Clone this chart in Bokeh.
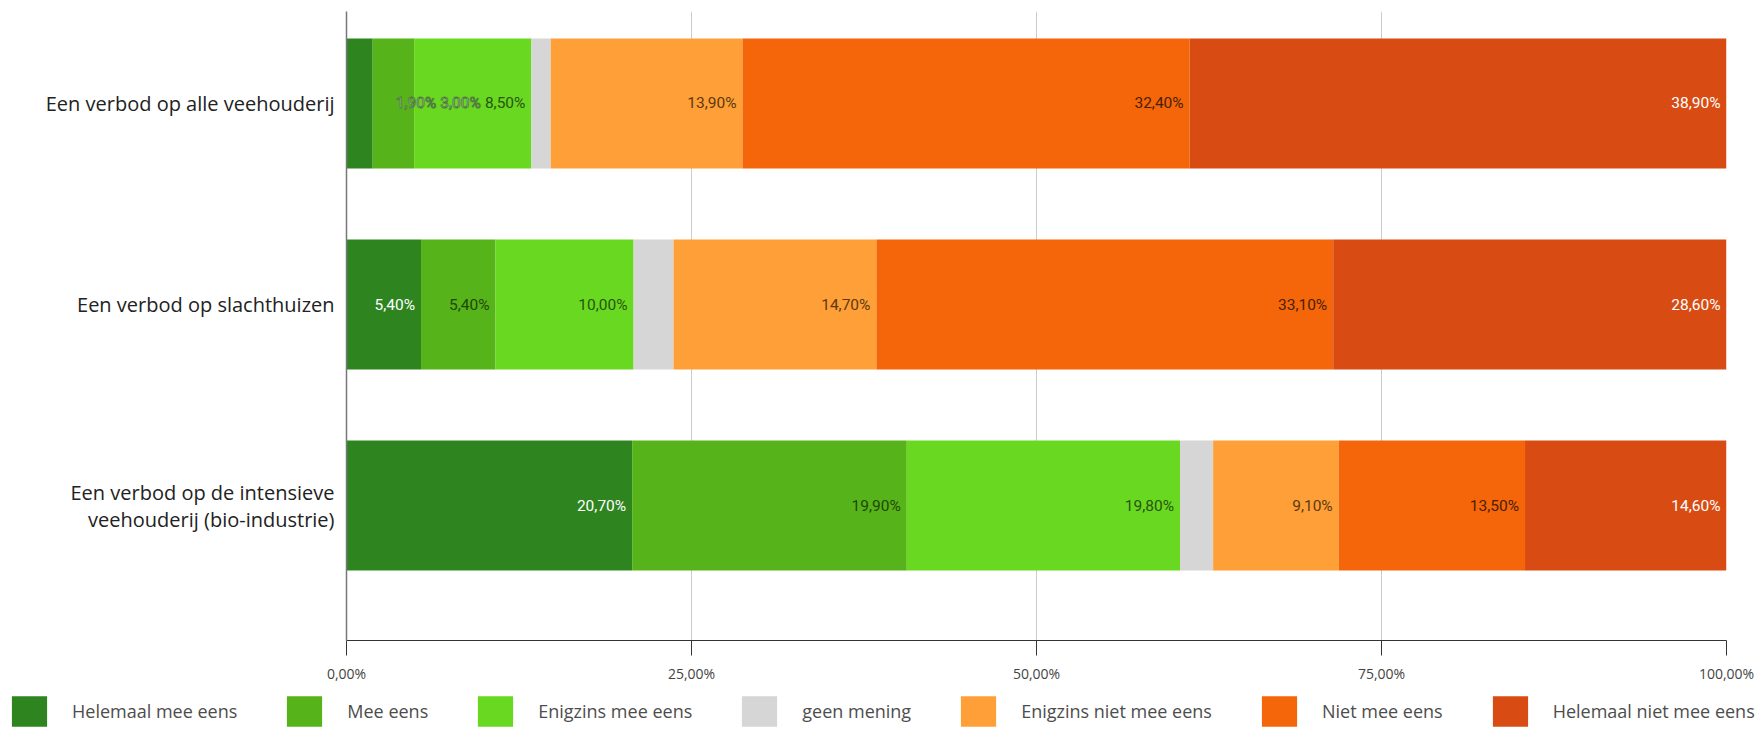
from bokeh.plotting import figure
from bokeh.models import ColumnDataSource, Range1d, FixedTicker, Legend, LegendItem
from bokeh.layouts import column
from bokeh.core.properties import value
from bokeh.embed import file_html
from bokeh.resources import INLINE

# ---------------- data ----------------
categories = [
    "Een verbod op alle veehouderij",
    "Een verbod op slachthuizen",
    "Een verbod op de intensieve\nveehouderij (bio-industrie)",
]
series_names = [
    "Helemaal mee eens",
    "Mee eens",
    "Enigzins mee eens",
    "geen mening",
    "Enigzins niet mee eens",
    "Niet mee eens",
    "Helemaal niet mee eens",
]
helemaal_mee_eens = [1.9, 5.4, 20.7]
mee_eens = [3.0, 5.4, 19.9]
enigzins_mee_eens = [8.5, 10.0, 19.8]
geen_mening = [1.4, 2.9, 2.4]
enigzins_niet_mee_eens = [13.9, 14.7, 9.1]
niet_mee_eens = [32.4, 33.1, 13.5]
helemaal_niet_mee_eens = [38.9, 28.6, 14.6]

series_values = [helemaal_mee_eens, mee_eens, enigzins_mee_eens, geen_mening,
                 enigzins_niet_mee_eens, niet_mee_eens, helemaal_niet_mee_eens]
series_colors = ["#2e8520", "#56b319", "#69d820", "#d6d6d6", "#ff9f37", "#f46609", "#d84c14"]
label_colors = ["#ffffff", "#1f4709", "#285510", None, "#5c3910", "#4a1f03", "#ffffff"]
show_label = [True, True, True, False, True, True, True]

x_ticks = [0, 25, 50, 75, 100]
x_tick_labels = ["0,00%", "25,00%", "50,00%", "75,00%", "100,00%"]

# ---------------- layout ----------------
W = 1760
H_MAIN = 692
H_LEG = 38
BL, BR, BT, BB = 346, W - 1726, 11, 52
frame_w = W - BL - BR
px_per_unit = frame_w / 100.0

p = figure(width=W, height=H_MAIN, output_backend="svg", toolbar_location=None,
           x_range=Range1d(0, 100), y_range=Range1d(2.6716, -0.4577),
           min_border_left=BL, min_border_right=BR, min_border_top=BT, min_border_bottom=BB)
p.outline_line_color = None
p.background_fill_color = "white"
p.frame_align = False

BAR_H = 0.647
renderers = []
n = len(categories)
cum = [0.0] * n
for name, vals, col in zip(series_names, series_values, series_colors):
    left = list(cum)
    right = [c + v for c, v in zip(cum, vals)]
    src = ColumnDataSource(dict(y=list(range(n)), left=left, right=right))
    r = p.hbar(y="y", left="left", right="right", height=BAR_H, source=src,
               fill_color=col, line_color=None)
    renderers.append(r)
    cum = right

# ---------------- value labels ----------------
FONT_PX = 15.5
char_em = {",": 0.197, "%": 0.733}
def text_w_units(s):
    em = sum(char_em.get(c, 0.562) for c in s)
    return em * FONT_PX / px_per_unit

pad_u = 6 / px_per_unit
gap_u = 4 / px_per_unit

norm = dict(x=[], y=[], text=[], color=[])
halo = dict(x=[], y=[], text=[], color=[])
for row in range(n):
    ends = []
    acc = 0.0
    for vals in series_values:
        acc += vals[row]
        ends.append(acc)
    next_left = 1e9
    for i in range(len(series_values) - 1, -1, -1):
        if not show_label[i]:
            continue
        v = series_values[i][row]
        txt = f"{v:.2f}".replace(".", ",") + "%"
        w = text_w_units(txt)
        right = min(ends[i], 100) - pad_u
        if w + 2 * pad_u > v:
            right = next_left - gap_u
            tgt = halo
        else:
            tgt = norm
        tgt["x"].append(right)
        tgt["y"].append(row)
        tgt["text"].append(txt)
        tgt["color"].append(label_colors[i])
        next_left = right - w

p.text(x="x", y="y", text="text", source=ColumnDataSource(norm), text_color="color",
       text_align="right", text_baseline="middle",
       text_font=value("Roboto"), text_font_size=f"{FONT_PX}px")
p.text(x="x", y="y", text="text", source=ColumnDataSource(halo), text_color="#ffffff",
       text_outline_color="#4f7d3a",
       text_align="right", text_baseline="middle",
       text_font=value("Roboto"), text_font_size=f"{FONT_PX}px")

# ---------------- axes ----------------
p.xaxis.ticker = FixedTicker(ticks=x_ticks)
p.xaxis.major_label_overrides = {t: l for t, l in zip(x_ticks, x_tick_labels)}
p.xaxis.axis_line_color = "#333333"
p.xaxis.major_tick_line_color = "#333333"
p.xaxis.major_tick_out = 15
p.xaxis.major_tick_in = 0
p.xaxis.minor_tick_line_color = None
p.xaxis.major_label_standoff = 8
p.xaxis.major_label_text_font = "Open Sans"
p.xaxis.major_label_text_font_size = "14px"
p.xaxis.major_label_text_color = "#444444"

p.yaxis.ticker = FixedTicker(ticks=list(range(n)))
p.yaxis.major_label_overrides = {i: c for i, c in enumerate(categories)}
p.yaxis.axis_line_color = "#777777"
p.yaxis.axis_line_width = 1.5
p.yaxis.major_tick_line_color = None
p.yaxis.minor_tick_line_color = None
p.yaxis.major_tick_out = 0
p.yaxis.major_tick_in = 0
p.yaxis.major_label_standoff = 12
p.yaxis.major_label_text_font = "Open Sans"
p.yaxis.major_label_text_font_size = "20px"
p.yaxis.major_label_text_line_height = 1.0
p.yaxis.major_label_text_color = "#222222"

p.xgrid.grid_line_color = "#cccccc"
p.ygrid.grid_line_color = None

# ---------------- legend (own strip below the chart) ----------------
pl = figure(width=W, height=H_LEG, output_backend="svg", toolbar_location=None,
            x_range=Range1d(0, 1), y_range=Range1d(0, 1),
            x_axis_location=None, y_axis_location=None,
            min_border_left=0, min_border_right=0, min_border_top=0, min_border_bottom=0)
pl.outline_line_color = None
pl.grid.visible = False
pl.frame_align = False
leg_renderers = []
for col in series_colors:
    # one swatch per series, placed outside the visible range (legend only)
    leg_renderers.append(pl.hbar(y=[5], left=[5], right=[6], height=1,
                                 fill_color=col, line_color=None))
legend = Legend(
    items=[LegendItem(label=nm, renderers=[r]) for nm, r in zip(series_names, leg_renderers)],
    orientation="horizontal", location=(7, 0),
    spacing=45, label_standoff=21, glyph_width=44, glyph_height=38,
    padding=0, margin=0, border_line_color=None, background_fill_alpha=0,
    label_text_font="Open Sans", label_text_font_size="18px", label_text_color="#4d4d4d",
)
pl.add_layout(legend)

layout = column(p, pl, spacing=0)
open("out.html", "w").write(file_html(layout, INLINE))
